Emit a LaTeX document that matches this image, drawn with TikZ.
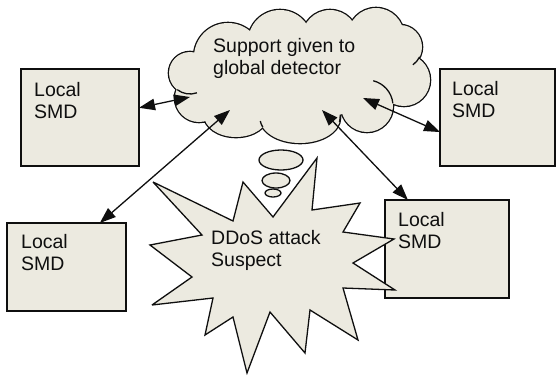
\documentclass[tikz,border=0pt]{standalone}
\usepackage{fontspec}
\setmainfont{Liberation Sans}
\usetikzlibrary{arrows.meta,calc}
\definecolor{paper}{RGB}{236,234,224}
\definecolor{ink}{RGB}{15,15,15}

\tikzset{
  smd/.style={draw=ink, line width=1.6pt, fill=paper, anchor=north west,
    inner sep=0pt, outer sep=0pt},
  lbl/.style={anchor=north west, inner sep=0pt, align=left, text=ink,
    font=\fontsize{19.5}{22.5}\selectfont},
  outline/.style={draw=ink, line width=1.3pt, line join=round},
  link/.style={draw=ink, line width=1.3pt,
    {Triangle[length=16pt,width=11.5pt]}-{Triangle[length=16pt,width=11.5pt]}},
  % overlapping puffs whose union forms the cloud
  cloudbody/.style={insert path={
    (190,-73) circle[radius=21pt]
    (228,-57) circle[radius=34pt]
    (280,-42) circle[radius=32pt]
    (330,-38) circle[radius=28pt]
    (376,-36) circle[radius=28pt]
    (400,-47) circle[radius=22pt]
    (404,-80) circle[radius=26pt]
    (367,-106) circle[radius=26pt]
    (300,-118) ellipse[x radius=40pt, y radius=25pt]
    (236,-115) ellipse[x radius=32pt, y radius=22pt]
    (199,-98) circle[radius=24pt]
    (295,-75) ellipse[x radius=95pt, y radius=45pt]}}
}

\begin{document}
\begin{tikzpicture}[x=1pt,y=1pt]
\useasboundingbox (0,0) rectangle (556,-378);

% local detectors
\node[smd, minimum width=118pt, minimum height=97pt] (tl) at (21,-69) {};
\node[smd, minimum width=115pt, minimum height=97pt] (tr) at (440,-69) {};
\node[smd, minimum width=119pt, minimum height=88pt] (bl) at (7,-223) {};
\node[smd, minimum width=124pt, minimum height=98pt] (br) at (385,-200) {};

% cloud: thick stroke of every puff, then the fill hides the inner parts
\draw[draw=ink, line width=2.6pt] [cloudbody];
\fill[paper] [cloudbody];
% inner puff arcs
\draw[outline] (190,-73) ++(232.6:21pt) arc[start angle=232.6, end angle=289.3, radius=21pt];
\draw[outline] (367,-106) ++(76:26pt) arc[start angle=76, end angle=6, radius=26pt];
\draw[outline] (400,-47) ++(-26.6:22pt) arc[start angle=-26.6, end angle=-54, radius=22pt];
\draw[outline] (300,-118) ++(202:40pt and 25pt) arc[start angle=202, end angle=187, x radius=40pt, y radius=25pt];
\draw[outline] (300,-118) ++(-9:40pt and 25pt) arc[start angle=-9, end angle=4, x radius=40pt, y radius=25pt];

% thought bubbles
\draw[outline, fill=paper] (281,-160) ellipse[x radius=22pt, y radius=10pt];
\draw[outline, fill=paper] (276,-180.5) ellipse[x radius=14pt, y radius=7.5pt];
\draw[outline, fill=paper] (273,-193) ellipse[x radius=8pt, y radius=4pt];

% attack burst
\draw[outline, line join=miter, miter limit=4, fill=paper]
  (153,-182) -- (233,-221) -- (243,-182) -- (273,-217) -- (317,-158)
  -- (312,-210) -- (360,-203) -- (343,-232) -- (394,-239) -- (353,-263)
  -- (395,-290) -- (343,-288) -- (358,-340) -- (310,-310) -- (305,-353)
  -- (270,-312) -- (247,-373) -- (233,-317) -- (205,-335) -- (213,-298)
  -- (152,-305) -- (192,-277) -- (150,-245) -- (202,-235) -- cycle;

% arrow ends inside the cloud
\coordinate (c1) at (190,-97);
\coordinate (c2) at (230,-110);
\coordinate (c3) at (322,-110);
\coordinate (c4) at (363,-98);

\draw[link] ($(tl.north east)!0.40!(tl.south east)$) -- (c1);
\draw[link] ($(bl.north west)!0.78!(bl.north east)$) -- (c2);
\draw[link] (c3) -- ($(br.north west)!0.185!(br.north east)$);
\draw[link] (c4) -- ($(tr.north west)!0.65!(tr.south west)$);

% labels
\node[lbl] (tl-t) at (34,-82) {Local\\SMD};
\node[lbl] (tr-t) at (452,-81) {Local\\SMD};
\node[lbl] (bl-t) at (21,-234) {Local\\SMD};
\node[lbl] (br-t) at (398,-212) {Local\\SMD};
\node[lbl] (cloud-t) at (213,-38) {Support given to\\global detector};
\node[lbl] (burst-t) at (211,-230) {DDoS attack\\Suspect};
\end{tikzpicture}
\end{document}
